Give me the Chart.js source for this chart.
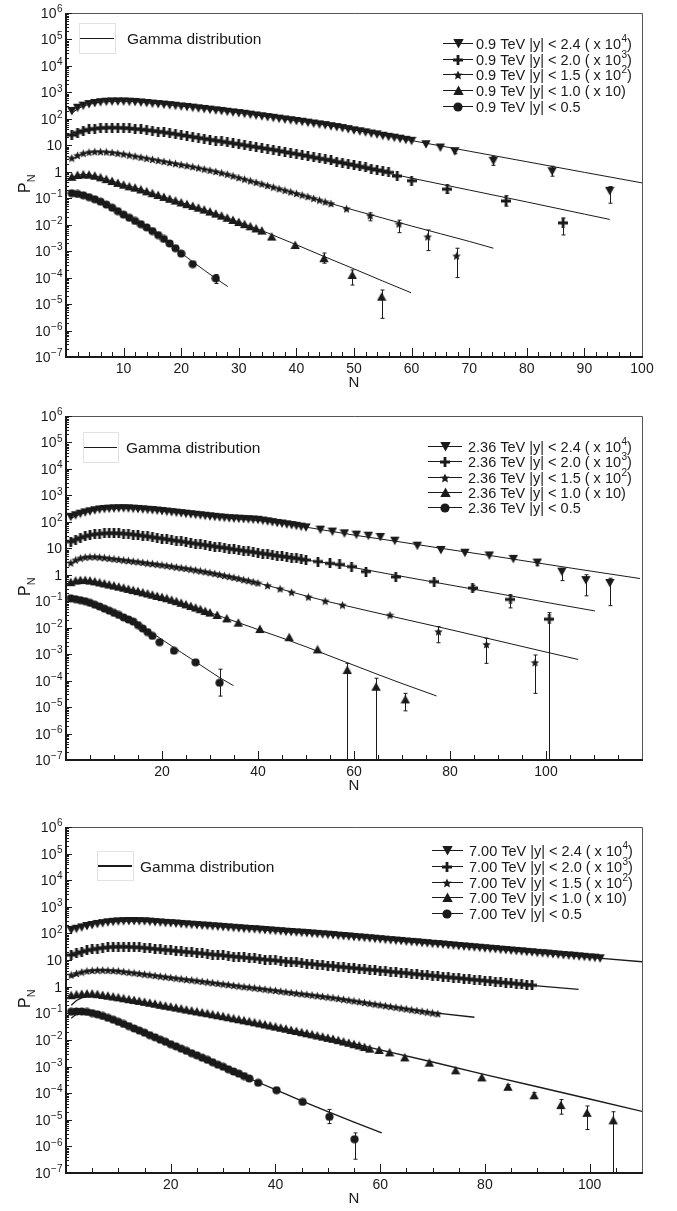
<!DOCTYPE html>
<html>
<head>
<meta charset="utf-8">
<script src="https://cdn.jsdelivr.net/npm/chart.js@4.4.0/dist/chart.umd.min.js"></script>
<style>
  body { margin: 0; background: #fff; }
  #wrap { position: relative; width: 677px; height: 1211px; }
  canvas { position: absolute; left: 0; }
</style>
</head>
<body>
<div id="wrap">
  <canvas id="c1" width="677" height="400" style="top:0px"></canvas>
  <canvas id="c2" width="677" height="400" style="top:400px"></canvas>
  <canvas id="c3" width="677" height="411" style="top:800px"></canvas>
</div>
<script>
// ---- shared bin centres (N = 1, 2, 3 ...) for the dense part of every series
const binsN = [1,2,3,4,5,6,7,8,9,10,11,12,13,14,15,16,17,18,19,20,21,22,23,24,25,26,27,28,29,30,
  31,32,33,34,35,36,37,38,39,40,41,42,43,44,45,46,47,48,49,50,51,52,53,54,55,56,57,58,59,60,
  61,62,63,64,65,66,67,68,69,70,71,72,73,74,75,76,77,78,79,80,81,82,83,84,85,86,87,88,89,90,
  91,92,93,94,95,96,97,98,99,100,101,102];

// tick labels
const yTickExp = [6,5,4,3,2,1,0,-1,-2,-3,-4,-5,-6,-7];
const xLabels1 = [10,20,30,40,50,60,70,80,90,100];
const xLabels2 = [20,40,60,80,100];
const xLabels3 = [20,40,60,80,100];
const cuts = ['2.4','2.0','1.5','1.0','0.5'];
const scaleSup = ['4','3','2','',''];

// ================= 0.9 TeV =================
const a1Dense = [200,263,316,363,398,427,447,457,457,457,447,437,417,398,380,363,347,331,313,295,
  282,266,251,237,224,211,200,186,176,166,155,145,135,126,117,110,102,95,89,83,
  78,72,67,62,58,53,49,45,41,37,34,31,28,26,23,21,19.5,17.8,16.2,14.8];
const a1TailN = [62.5,65,67.5,74.2,84.4,94.4];
const a1Tail = [11,8.3,6.0,2.6,1.05,0.19];
const a1Lo = [null,null,4.8,1.75,0.68,0.065];
const a1Hi = [null,null,7.5,3.8,1.62,0.275];
const a1FitN = [1,2,3,4,6,8,10,12,15,20,25,30,35,40,45,50,55,60,70,80,90,100];
const a1Fit = [158,240,302,355,427,457,462,447,389,302,229,170,120,85,59,38,24,15.1,6.0,2.4,0.95,0.38];

const b1Dense = [24.5,30.2,35.5,39.8,42.7,45.2,46.2,46.8,46.2,45.2,43.7,41.7,39.8,37.6,35.5,33.1,30.9,28.8,26.6,24.5,
  22.6,20.9,19.3,17.8,16.4,15.1,14.0,12.9,11.9,11.0,10.1,9.3,8.6,7.9,7.3,6.8,6.2,5.6,5.1,4.7,
  4.3,3.9,3.5,3.2,2.95,2.7,2.4,2.2,1.97,1.78,1.60,1.45,1.30,1.17,1.06,0.95];
const b1TailN = [57.5,60,66.2,76.4,86.3];
const b1Tail = [0.69,0.46,0.22,0.079,0.0117];
const b1Lo = [null,null,0.155,0.05,0.0041];
const b1Hi = [null,null,0.31,0.125,0.018];
const b1FitN = [1,2,3,4,6,8,10,12,15,20,25,30,35,40,45,50,55,60,70,80,90,94.4];
const b1Fit = [21.4,28.8,34.7,38.9,44.7,46.8,45.2,41.7,35.5,24.5,16.4,11.0,7.3,4.68,2.69,1.62,0.977,0.575,0.204,0.0724,0.0251,0.0158];

const c1Dense = [3.31,4.17,5.01,5.50,5.75,5.75,5.62,5.37,5.01,4.68,4.27,3.89,3.55,3.24,2.95,2.69,2.45,2.24,2.04,1.86,
  1.70,1.55,1.40,1.26,1.14,1.02,0.91,0.81,0.70,0.60,0.525,0.457,0.398,0.347,0.302,0.263,0.229,0.200,0.174,0.151,
  0.132,0.115,0.099,0.085,0.073,0.063];
const c1TailN = [48.7,52.8,57.8,62.8,67.8];
const c1Tail = [0.040,0.022,0.0107,0.0035,0.00066];
const c1Lo = [null,0.014,0.0050,0.00105,0.0001];
const c1Hi = [null,0.028,0.0148,0.0063,0.00129];
const c1FitN = [1,2,3,4,5,6,8,10,12,15,20,25,30,35,40,45,50,55,60,65,70,74.2];
const c1Fit = [2.82,3.98,4.79,5.37,5.62,5.69,5.37,4.68,3.89,2.95,1.86,1.135,0.603,0.302,0.151,0.0724,0.0355,0.0178,0.0089,0.00457,0.00234,0.00129];

const d1Dense = [0.646,0.759,0.794,0.776,0.708,0.617,0.525,0.447,0.380,0.324,0.282,0.251,0.214,0.182,0.155,0.132,0.112,0.0955,0.0813,0.0692,
  0.0596,0.0513,0.0437,0.0372,0.0313,0.0263,0.0219,0.0182,0.0151,0.0126,0.0105,0.0087,0.0072,0.0060];
const d1TailN = [35.7,39.8,44.8,49.7,54.8];
const d1Tail = [0.00355,0.0017,0.00054,0.000126,0.000019];
const d1Lo = [null,null,0.00035,0.0000525,0.0000029];
const d1Hi = [null,null,0.00085,0.000195,0.000034];
const d1FitN = [1,2,3,4,5,6,8,10,12,15,20,25,30,35,40,45,50,55,59.9];
const d1Fit = [0.603,0.741,0.794,0.776,0.708,0.617,0.447,0.324,0.251,0.155,0.0692,0.0313,0.0126,0.0049,0.00174,0.000603,0.000214,0.0000741,0.0000269];

const e1Dense = [0.155,0.145,0.129,0.110,0.0912,0.0741,0.0575,0.0437,0.0324,0.0240,0.0182,0.0138,0.0105,0.0079,0.00575,0.00407,0.00288,0.00195,0.00129,0.00081];
const e1TailN = [22,26];
const e1Tail = [0.000324,0.0000933];
const e1Lo = [null,0.00006];
const e1Hi = [null,0.00013];
const e1FitN = [1,2,3,4,5,6,8,10,12,14,16,18,20,22,24,26,28.1];
const e1Fit = [0.158,0.145,0.129,0.110,0.0912,0.0741,0.0437,0.0240,0.0138,0.0079,0.00407,0.00195,0.00085,0.000398,0.000191,0.0000933,0.0000457];

// ================= 2.36 TeV =================
const a2Dense = [155,178,204,229,251,275,295,309,316,324,327,327,324,316,309,299,288,279,269,257,
  245,234,224,214,204,195,186,178,170,162,155,148,143,138,135,132,129,126,123,120,
  112,105,98,91,87,81,76,71,66,62];
const a2TailN = [53,55.5,58,60.5,63,65.5,68.5,73.2,78.1,83.1,88.2,93.2,98.2,103.3,108.3,113.3];
const a2Tail = [51,43,37,33,30,27,19.5,12.6,8.7,6.8,5.4,4.0,2.9,1.32,0.63,0.49];
const a2Lo = [null,null,null,null,null,null,null,null,null,null,null,null,2.2,0.60,0.16,0.068];
const a2Hi = [null,null,null,null,null,null,null,null,null,null,null,null,3.7,1.74,1.0,0.74];
const a2FitN = [1,2,3,4,6,8,10,12,15,20,25,30,35,40,45,50,55,60,70,80,90,100,110,119.6];
const a2Fit = [132,166,195,224,269,302,320,324,309,257,204,162,132,112,89,63,44.7,31.6,17.0,8.9,4.8,2.5,1.32,0.72];

const b2Dense = [17.8,21.4,25.1,28.2,31.6,33.9,35.5,36.7,37.2,37.2,36.7,35.9,34.7,33.1,31.6,29.9,28.2,26.3,24.8,23.4,
  21.9,20.4,19.3,18.2,17.0,15.8,15.1,14.1,13.2,12.6,11.7,11.0,10.5,9.8,9.1,8.7,8.1,7.6,7.2,6.8,
  6.3,6.0,5.6,5.2,5.0,4.7,4.4,4.2,3.9,3.6];
const b2TailN = [52.5,55,57,59.5,62.5,68.7,76.7,84.7,92.6,100.7];
const b2Tail = [3.16,2.69,2.45,2.04,1.32,0.83,0.55,0.316,0.117,0.021];
const b2Lo = [null,null,null,null,null,null,null,0.25,0.056,1e-9];
const b2Hi = [null,null,null,null,null,null,null,0.40,0.17,0.037];
const b2FitN = [1,2,3,4,6,8,10,12,15,20,25,30,35,40,45,50,55,60,70,80,90,100,110.2];
const b2Fit = [15.8,20.4,24.5,28.2,33.9,36.7,37.2,35.9,31.6,23.4,17.0,12.6,9.1,6.8,5.0,3.6,2.69,1.86,0.87,0.41,0.195,0.091,0.043];

const c2Dense = [2.82,3.63,4.27,4.62,4.79,4.79,4.62,4.42,4.17,3.98,3.80,3.59,3.43,3.24,3.09,2.92,2.75,2.63,2.48,2.34,
  2.21,2.09,1.95,1.84,1.74,1.62,1.51,1.40,1.30,1.20,1.11,1.02,0.93,0.86,0.79,0.72,0.65,0.60,0.54,0.49];
const c2TailN = [42,44.6,47,50.5,54,57.6,67.5,77.6,87.6,97.7];
const c2Tail = [0.39,0.295,0.219,0.145,0.102,0.072,0.030,0.0071,0.00234,0.00048];
const c2Lo = [null,null,null,null,null,null,null,0.0027,0.00045,0.000033];
const c2Hi = [null,null,null,null,null,null,null,0.011,0.004,0.00093];
const c2FitN = [1,2,3,4,6,8,10,15,20,25,30,35,40,45,50,55,60,70,80,90,100,106.7];
const c2Fit = [2.51,3.47,4.17,4.57,4.79,4.42,3.98,3.09,2.34,1.74,1.20,0.79,0.49,0.28,0.158,0.093,0.0575,0.0219,0.0085,0.0032,0.0012,0.00063];

const d2Dense = [0.525,0.603,0.631,0.631,0.603,0.562,0.513,0.468,0.427,0.389,0.355,0.324,0.292,0.263,0.240,0.216,0.195,0.176,0.158,0.143,
  0.129,0.1135,0.100,0.087,0.076,0.066,0.0575,0.050,0.0427,0.0372];
const d2TailN = [31.5,33.5,35.9,40.4,46.5,52.4,58.6,64.6,70.7];
const d2Tail = [0.0302,0.0224,0.0155,0.0089,0.00437,0.00151,0.000251,0.0000589,0.0000195];
const d2Lo = [null,null,null,null,null,null,1e-9,1e-9,0.0000072];
const d2Hi = [null,null,null,null,null,null,0.00045,0.000123,0.000033];
const d2FitN = [1,2,3,4,6,8,10,15,20,25,30,35,40,45,50,55,60,65,70,77.2];
const d2Fit = [0.479,0.589,0.631,0.631,0.562,0.468,0.389,0.240,0.143,0.076,0.0372,0.0178,0.0085,0.0041,0.0019,0.00085,0.00038,0.00017,0.0000776,0.0000263];

const e2Dense = [0.129,0.120,0.110,0.100,0.087,0.074,0.063,0.0525,0.0437,0.0363,0.0302,0.0245,0.0204,0.0170,0.0126,0.0093,0.0068,0.0049];
const e2TailN = [19.5,22.5,27,32];
const e2Tail = [0.00282,0.00135,0.00049,0.000083];
const e2Lo = [null,null,null,0.000026];
const e2Hi = [null,null,null,0.00027];
const e2FitN = [1,2,4,6,8,10,12,14,16,18,20,22,24,26,28,30,32,34.9];
const e2Fit = [0.132,0.120,0.100,0.074,0.0525,0.0363,0.0245,0.0166,0.0105,0.0063,0.00355,0.00204,0.00117,0.00068,0.00039,0.000224,0.000129,0.0000646];

// ================= 7.00 TeV =================
const a3Dense = [135,151,170,191,209,229,245,263,275,285,292,295,295,292,288,279,269,260,251,245,
  237,229,221,214,207,200,195,188,182,176,170,164,158,153,148,145,140,135,130,126,
  122,117,114,110,107,104,100,96.6,93.3,90.2,87.1,83.2,80.4,77.6,74.1,71.6,69.2,66.1,63.8,61.0,
  58.9,56.2,54.3,52.5,50.1,48.4,46.8,44.7,43.2,41.2,39.8,38.5,36.7,35.5,33.9,32.7,31.6,30.2,29.2,27.9,
  26.9,26.0,24.8,24.0,22.9,22.1,21.4,20.4,19.7,18.8,18.2,17.6,16.8,16.2,15.5,15.0,14.5,13.8,13.3,12.7,
  12.3,11.7];
const a3FitN = [1,2,3,4,6,8,10,12,15,20,30,40,50,60,70,80,90,100,110.4];
const a3Fit = [158,178,195,214,245,269,288,295,288,245,176,126,90,61,41,27.9,18.8,12.7,8.5];

const b3Dense = [15.5,17.8,20.4,22.9,25.1,27.2,28.8,30.2,31.3,31.6,31.6,31.3,30.5,29.9,28.8,27.5,26.3,25.1,24.3,23.2,
  22.1,21.1,20.2,19.5,18.6,17.8,17.0,16.2,15.7,15.0,14.3,13.6,13.0,12.6,12.0,11.5,11.0,10.5,10.1,9.66,
  9.22,8.81,8.41,8.13,7.76,7.41,7.08,6.76,6.53,6.24,5.96,5.69,5.43,5.25,5.01,4.79,4.57,4.37,4.22,4.03,
  3.85,3.67,3.51,3.39,3.24,3.09,2.95,2.82,2.72,2.60,2.48,2.37,2.26,2.19,2.09,2.00,1.91,1.82,1.76,1.68,
  1.60,1.53,1.46,1.41,1.35,1.29,1.23,1.17,1.135];
const b3FitN = [1,2,3,4,6,8,10,12,15,20,30,40,50,60,70,80,90,97.9];
const b3Fit = [16.6,18.6,20.9,22.9,26.9,30.2,31.6,31.3,28.8,23.2,15.0,9.66,6.24,4.03,2.60,1.68,1.08,0.79];

const c3Dense = [2.75,3.16,3.55,3.89,4.07,4.17,4.17,4.12,4.03,3.89,3.67,3.47,3.31,3.13,2.95,2.79,2.63,2.48,2.34,2.21,
  2.09,1.97,1.86,1.78,1.68,1.58,1.50,1.41,1.33,1.26,1.19,1.12,1.06,1.00,0.955,0.902,0.851,0.804,0.759,0.716,
  0.676,0.638,0.603,0.569,0.543,0.513,0.484,0.457,0.431,0.407,0.385,0.359,0.335,0.313,0.292,0.272,0.254,0.237,0.221,0.207,
  0.193,0.180,0.168,0.157,0.146,0.136,0.127,0.119,0.111,0.1035,0.0966];
const c3FitN = [1,2,3,4,6,8,10,15,20,30,40,50,60,70,78];
const c3Fit = [2.24,2.95,3.47,3.85,4.17,4.12,3.89,2.95,2.21,1.26,0.716,0.407,0.207,0.107,0.071];

const d3Dense = [0.479,0.513,0.537,0.550,0.550,0.525,0.490,0.457,0.427,0.398,0.367,0.339,0.316,0.292,0.269,0.248,0.229,0.209,0.193,0.178,
  0.164,0.151,0.138,0.127,0.1175,0.108,0.100,0.0912,0.0841,0.0776,0.0708,0.0646,0.0596,0.0543,0.0501,0.0457,0.0417,0.0380,0.0347,0.0316,
  0.0288,0.0263,0.0237,0.0216,0.0195,0.0178,0.0162,0.0146,0.0133,0.0120,0.0110,0.0098,0.0087,0.0078,0.0069,0.0062,0.0054,0.0047];
const d3TailN = [59.8,61.8,64.7,69.4,74.4,79.4,84.4,89.4,94.5,99.5,104.5];
const d3Tail = [0.0042,0.0034,0.0022,0.0014,0.00072,0.00039,0.000174,0.000083,0.0000355,0.0000182,0.0000095];
const d3Lo = [null,null,null,null,null,null,0.00014,0.000065,0.0000162,0.0000043,1e-9];
const d3Hi = [null,null,null,null,null,null,0.00021,0.000105,0.0000575,0.000033,0.00002];
const d3FitN = [1,2,3,4,5,6,8,10,15,20,30,40,50,60,70,80,90,100,110.3];
const d3Fit = [0.200,0.302,0.380,0.427,0.447,0.447,0.417,0.380,0.257,0.170,0.0741,0.0309,0.0123,0.00427,0.00148,0.000501,0.000174,0.0000603,0.0000200];

const e3Dense = [0.115,0.1175,0.1175,0.112,0.102,0.0912,0.0794,0.0676,0.0575,0.0479,0.0398,0.0331,0.0269,0.0224,0.0186,0.0151,0.0126,0.0102,0.0085,0.0069,
  0.00575,0.00468,0.00389,0.00316,0.00263,0.00214,0.00178,0.00145,0.00117,0.00098,0.00079,0.00065,0.00054,0.00044,0.000355];
const e3TailN = [36.7,40.2,45.2,50.3,55.1];
const e3Tail = [0.000245,0.000129,0.0000468,0.0000129,0.00000186];
const e3Lo = [null,null,null,0.0000072,0.00000033];
const e3Hi = [null,null,null,0.0000245,0.0000032];
const e3FitN = [1,2,3,4,6,8,10,15,20,25,30,35,40,45,50,55,60.3];
const e3Fit = [0.0646,0.0933,0.105,0.107,0.0933,0.0692,0.049,0.0186,0.0069,0.00263,0.00098,0.000355,0.000135,0.0000513,0.0000204,0.0000081,0.0000032];

// ---------------------------------------------------------------
const FONT = '"Liberation Sans", Arial, Helvetica, sans-serif';
const INK = '#1a1a1a';

// marker glyphs drawn once onto small canvases, used as pointStyle
function marker(kind, s) {
    const c = document.createElement('canvas');
    c.width = s; c.height = s;
    const g = c.getContext('2d');
    const h = s / 2;
    g.fillStyle = INK;
    g.beginPath();
    if (kind === 'down') {
        g.moveTo(0.3, 1); g.lineTo(s - 0.3, 1); g.lineTo(h, s - 0.5);
    } else if (kind === 'up') {
        g.moveTo(h, 0.5); g.lineTo(s - 0.3, s - 1); g.lineTo(0.3, s - 1);
    } else if (kind === 'plus') {
        g.rect(h - 1.4, 0, 2.8, s); g.rect(0, h - 1.4, s, 2.8);
    } else if (kind === 'star') {
        for (let i = 0; i < 10; i++) {
            const r = i % 2 ? h * 0.45 : h;
            const a = -Math.PI / 2 + i * Math.PI / 5;
            g.lineTo(h + r * Math.cos(a), h + 0.4 + r * Math.sin(a));
        }
        g.closePath();
    } else {
        g.arc(h, h, h - 0.4, 0, Math.PI * 2);
    }
    g.fill();
    return c;
}
const marks = {
    down: marker('down', 10), plus: marker('plus', 10), star: marker('star', 9),
    up: marker('up', 10), circle: marker('circle', 9)
};
const legMarks = {
    down: marker('down', 11), plus: marker('plus', 10), star: marker('star', 10),
    up: marker('up', 11), circle: marker('circle', 10)
};
const markOrder = ['down', 'plus', 'star', 'up', 'circle'];

function S(mark, dense, fitN, fit, tailN, tail, lo, hi) {
    return { mark, dense, fitN, fit, tailN: tailN || [], tail: tail || [], lo: lo || [], hi: hi || [] };
}

const panels = [
    {
        id: 'c1', energy: '0.9', xmax: 100, minor: 2, xLabels: xLabels1,
        pad: { top: 13, bottom: 43 }, fitW: 1,
        gamma: { box: [79, 23, 115, 53], tx: 127 },
        leg: { x1: 443, x2: 473, mx: 458, tx: 476, ys: [43, 59, 74, 90, 106] },
        series: [
            S('down', a1Dense, a1FitN, a1Fit, a1TailN, a1Tail, a1Lo, a1Hi),
            S('plus', b1Dense, b1FitN, b1Fit, b1TailN, b1Tail, b1Lo, b1Hi),
            S('star', c1Dense, c1FitN, c1Fit, c1TailN, c1Tail, c1Lo, c1Hi),
            S('up', d1Dense, d1FitN, d1Fit, d1TailN, d1Tail, d1Lo, d1Hi),
            S('circle', e1Dense, e1FitN, e1Fit, e1TailN, e1Tail, e1Lo, e1Hi)
        ]
    },
    {
        id: 'c2', energy: '2.36', xmax: 120, minor: 5, xLabels: xLabels2,
        pad: { top: 16, bottom: 40 }, fitW: 1,
        gamma: { box: [83, 32, 118, 62], tx: 126 },
        leg: { x1: 428, x2: 462, mx: 445, tx: 468, ys: [46, 61, 77, 92, 107] },
        series: [
            S('down', a2Dense, a2FitN, a2Fit, a2TailN, a2Tail, a2Lo, a2Hi),
            S('plus', b2Dense, b2FitN, b2Fit, b2TailN, b2Tail, b2Lo, b2Hi),
            S('star', c2Dense, c2FitN, c2Fit, c2TailN, c2Tail, c2Lo, c2Hi),
            S('up', d2Dense, d2FitN, d2Fit, d2TailN, d2Tail, d2Lo, d2Hi),
            S('circle', e2Dense, e2FitN, e2Fit, e2TailN, e2Tail, e2Lo, e2Hi)
        ]
    },
    {
        id: 'c3', energy: '7.00', xmax: 110, minor: 5, xLabels: xLabels3,
        pad: { top: 27, bottom: 38 }, fitW: 1.3,
        gamma: { box: [97, 51, 133, 80], tx: 140, lw: 2 },
        leg: { x1: 432, x2: 463, mx: 447, tx: 469, ys: [50, 66, 82, 97, 113] },
        series: [
            S('down', a3Dense, a3FitN, a3Fit),
            S('plus', b3Dense, b3FitN, b3Fit),
            S('star', c3Dense, c3FitN, c3Fit),
            S('up', d3Dense, d3FitN, d3Fit, d3TailN, d3Tail, d3Lo, d3Hi),
            S('circle', e3Dense, e3FitN, e3Fit, e3TailN, e3Tail, e3Lo, e3Hi)
        ]
    }
];

function buildDatasets(p) {
    const sets = [];
    p.series.forEach(function(s) {
        sets.push({
            data: s.fitN.map((n, i) => ({ x: n, y: s.fit[i] })),
            showLine: true, pointRadius: 0, borderColor: INK, borderWidth: p.fitW,
            order: 2
        });
        const pts = s.dense.map((v, i) => ({ x: binsN[i], y: v }))
            .concat(s.tailN.map((n, i) => ({ x: n, y: s.tail[i] })));
        sets.push({
            data: pts, showLine: false, pointStyle: marks[s.mark],
            pointRadius: 4, pointHoverRadius: 4, order: 1
        });
    });
    return sets;
}

// text with a raised exponent: base + sup + tail
function supText(ctx, x, y, base, sup, tail, size, align) {
    const small = Math.round(size * 0.68);
    ctx.font = size + 'px ' + FONT;
    const wb = ctx.measureText(base).width;
    const wt = tail ? ctx.measureText(tail).width : 0;
    ctx.font = small + 'px ' + FONT;
    const ws = sup ? ctx.measureText(sup).width : 0;
    let x0 = x;
    if (align === 'right') x0 = x - wb - ws - wt;
    ctx.textAlign = 'left';
    ctx.font = size + 'px ' + FONT;
    ctx.fillText(base, x0, y);
    if (sup) {
        ctx.font = small + 'px ' + FONT;
        ctx.fillText(sup, x0 + wb + 0.5, y - size * 0.42);
    }
    if (tail) {
        ctx.font = size + 'px ' + FONT;
        ctx.fillText(tail, x0 + wb + ws + 0.5, y);
    }
}

function decor(p) {
    return {
        id: 'decor',
        beforeDatasetsDraw(chart) {
            // error bars
            const ctx = chart.ctx, a = chart.chartArea;
            const xs = chart.scales.x, ys = chart.scales.y;
            ctx.save();
            ctx.strokeStyle = INK;
            ctx.lineWidth = 1;
            p.series.forEach(function(s) {
                s.tailN.forEach(function(n, i) {
                    if (s.lo[i] == null) return;
                    const x = Math.round(xs.getPixelForValue(n)) + 0.5;
                    const yt = ys.getPixelForValue(s.hi[i]);
                    const yb = Math.min(ys.getPixelForValue(s.lo[i]), a.bottom);
                    ctx.beginPath();
                    ctx.moveTo(x, yt); ctx.lineTo(x, yb);
                    ctx.moveTo(x - 2, yt); ctx.lineTo(x + 2, yt);
                    if (yb < a.bottom) { ctx.moveTo(x - 2, yb); ctx.lineTo(x + 2, yb); }
                    ctx.stroke();
                });
            });
            ctx.restore();
        },
        afterDraw(chart) {
            const ctx = chart.ctx, a = chart.chartArea;
            const xs = chart.scales.x, ys = chart.scales.y;
            ctx.save();
            // frame
            ctx.strokeStyle = '#555';
            ctx.lineWidth = 1;
            ctx.beginPath();
            ctx.moveTo(a.left, a.top + 0.5); ctx.lineTo(a.right + 0.5, a.top + 0.5);
            ctx.lineTo(a.right + 0.5, a.bottom);
            ctx.stroke();
            ctx.strokeStyle = INK;
            ctx.lineWidth = 2;
            ctx.beginPath();
            ctx.moveTo(a.left, a.top); ctx.lineTo(a.left, a.bottom); ctx.lineTo(a.right + 1, a.bottom);
            ctx.stroke();

            // y ticks (log, inward)
            ctx.lineWidth = 1;
            ctx.beginPath();
            for (let e = -7; e <= 6; e++) {
                const y = Math.round(ys.getPixelForValue(Math.pow(10, e))) + 0.5;
                ctx.moveTo(a.left, y); ctx.lineTo(a.left + 6, y);
                if (e < 6) {
                    for (let m = 2; m <= 9; m++) {
                        const ym = Math.round(ys.getPixelForValue(m * Math.pow(10, e))) + 0.5;
                        ctx.moveTo(a.left, ym); ctx.lineTo(a.left + 3, ym);
                    }
                }
            }
            // x ticks (inward)
            for (let v = p.minor; v < p.xmax; v += p.minor) {
                const x = Math.round(xs.getPixelForValue(v)) + 0.5;
                const len = p.xLabels.indexOf(v) >= 0 ? 9 : 5;
                ctx.moveTo(x, a.bottom); ctx.lineTo(x, a.bottom - len);
            }
            ctx.stroke();

            // tick labels
            ctx.fillStyle = INK;
            ctx.textBaseline = 'alphabetic';
            yTickExp.forEach(function(e) {
                const y = ys.getPixelForValue(Math.pow(10, e)) + 5;
                if (e === 0) supText(ctx, a.left - 4, y, '1', '', '', 14, 'right');
                else if (e === 1) supText(ctx, a.left - 4, y, '10', '', '', 14, 'right');
                else supText(ctx, a.left - 4, y, '10', (e < 0 ? '\u2212' : '') + Math.abs(e), '', 14, 'right');
            });
            ctx.font = '14px ' + FONT;
            ctx.textAlign = 'center';
            p.xLabels.forEach(function(v) {
                ctx.fillText(String(v), xs.getPixelForValue(v), a.bottom + 16);
            });

            // axis titles
            ctx.font = '15px ' + FONT;
            ctx.fillText('N', (a.left + a.right) / 2, a.bottom + 30);
            ctx.save();
            ctx.translate(30, (a.top + a.bottom) / 2);
            ctx.rotate(-Math.PI / 2);
            ctx.textAlign = 'left';
            ctx.font = '16px ' + FONT;
            const wp = ctx.measureText('P').width;
            ctx.fillText('P', -8, 0);
            ctx.font = '11px ' + FONT;
            ctx.fillText('N', -8 + wp, 5);
            ctx.restore();

            // gamma legend
            const g = p.gamma;
            ctx.strokeStyle = '#e2e2e2';
            ctx.lineWidth = 1;
            ctx.strokeRect(g.box[0] + 0.5, g.box[1] + 0.5, g.box[2] - g.box[0], g.box[3] - g.box[1]);
            const gy = Math.round((g.box[1] + g.box[3]) / 2) + (g.lw === 2 ? 0 : 0.5);
            ctx.strokeStyle = INK;
            ctx.lineWidth = g.lw || 1;
            ctx.beginPath();
            ctx.moveTo(g.box[0] + 1, gy); ctx.lineTo(g.box[2] - 1, gy);
            ctx.stroke();
            ctx.textAlign = 'left';
            ctx.font = '15.5px ' + FONT;
            ctx.fillText('Gamma distribution', g.tx, gy + 5.5);

            // series legend
            const L = p.leg;
            ctx.lineWidth = 1;
            L.ys.forEach(function(y, i) {
                ctx.beginPath();
                ctx.moveTo(L.x1, y + 0.5); ctx.lineTo(L.x2, y + 0.5);
                ctx.stroke();
                const m = legMarks[markOrder[i]];
                ctx.drawImage(m, Math.round(L.mx - m.width / 2), Math.round(y + 0.5 - m.height / 2));
                const base = p.energy + ' TeV |y| < ' + cuts[i];
                if (i < 3) supText(ctx, L.tx, y + 5.5, base + ' ( x 10', scaleSup[i], ')', 14.5, 'left');
                else if (i === 3) supText(ctx, L.tx, y + 5.5, base + ' ( x 10)', '', '', 14.5, 'left');
                else supText(ctx, L.tx, y + 5.5, base, '', '', 14.5, 'left');
            });
            ctx.restore();
        }
    };
}

panels.forEach(function(p) {
    const el = document.getElementById(p.id);
    new Chart(el.getContext('2d'), {
        type: 'scatter',
        data: { datasets: buildDatasets(p) },
        options: {
            responsive: false,
            animation: false,
            layout: { padding: { left: 66, right: 35, top: p.pad.top, bottom: p.pad.bottom } },
            plugins: { legend: { display: false }, tooltip: { enabled: false } },
            scales: {
                x: { type: 'linear', min: 0, max: p.xmax, display: false },
                y: { type: 'logarithmic', min: 1e-7, max: 1e6, display: false }
            }
        },
        plugins: [decor(p)]
    });
});
</script>
</body>
</html>
